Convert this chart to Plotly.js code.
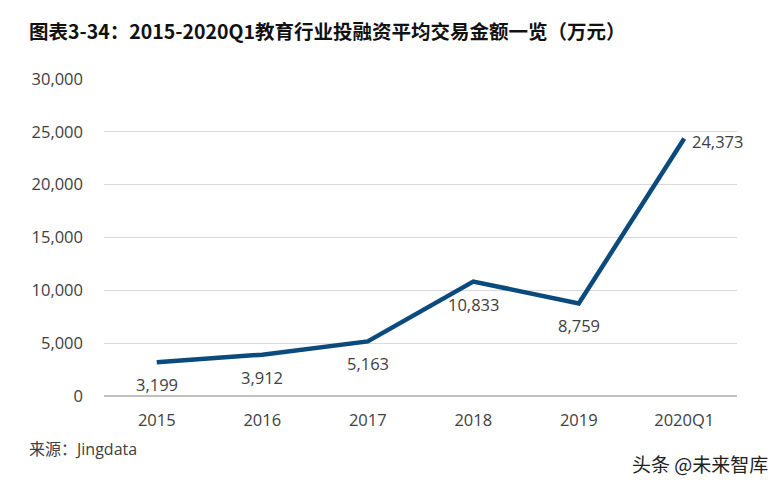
<!DOCTYPE html>
<html><head><meta charset="utf-8">
<script src="https://cdn.plot.ly/plotly-3.0.1.min.js"></script>
<style>html,body{margin:0;padding:0;background:#fff;}#chart{width:774px;height:486px;}</style>
</head><body><div id="chart"></div>
<script>
const categories = ['2015','2016','2017','2018','2019','2020Q1'];
const values = [3199, 3912, 5163, 10833, 8759, 24373];
const yTicks = [0, 5000, 10000, 15000, 20000, 25000, 30000];

const fmt = v => v.toLocaleString('en-US');
const annotations = values.map((v, i) => {
  const last = i === values.length - 1;
  return {
    x: i, y: v, xref: 'x', yref: 'y', text: fmt(v), showarrow: false,
    xanchor: last ? 'left' : 'center', yanchor: last ? 'middle' : 'top',
    xshift: last ? 6 : 0, yshift: last ? -3 : -9,
    font: {family: 'Open Sans, sans-serif', size: 16.5, color: '#404040'}
  };
});
annotations.push({
  xref: 'paper', yref: 'paper', x: 0, y: 1, xanchor: 'left', yanchor: 'middle',
  xshift: -77, yshift: 49, showarrow: false,
  text: '<b>图表3-34：2015-2020Q1教育行业投融资平均交易金额一览（万元）</b>',
  font: {family: 'Noto Sans CJK SC, sans-serif', size: 19.5, color: '#111'}
});
annotations.push({
  xref: 'paper', yref: 'paper', x: 0, y: 0, xanchor: 'left', yanchor: 'middle',
  xshift: -77, yshift: -53, showarrow: false, text: '来源：Jingdata',
  font: {family: 'Open Sans, Noto Sans CJK SC, sans-serif', size: 16, color: '#404040'}
});
annotations.push({
  xref: 'paper', yref: 'paper', x: 1, y: 0, xanchor: 'right', yanchor: 'middle',
  xshift: 33, yshift: -67, showarrow: false, text: '头条 @未来智库',
  font: {family: 'Noto Sans CJK SC, sans-serif', size: 19, color: '#222'}
});

Plotly.newPlot('chart', [{
  x: categories, y: values, type: 'scatter', mode: 'lines',
  line: {color: '#0b4a7d', width: 4.5}, hoverinfo: 'none'
}], {
  width: 774, height: 486,
  margin: {l: 104, r: 37, t: 79, b: 90},
  paper_bgcolor: '#fff', plot_bgcolor: '#fff',
  showlegend: false,
  xaxis: {type: 'category', range: [-0.5, 5.5], showgrid: false, zeroline: false,
    showline: false, ticks: '', ticklabelstandoff: 12,
    tickfont: {family: 'Open Sans, sans-serif', size: 16.5, color: '#404040'}},
  yaxis: {range: [0, 30000], tickvals: yTicks, ticktext: yTicks.map(fmt),
    showgrid: true, gridcolor: '#d9d9d9', gridwidth: 1, zeroline: true, zerolinecolor: '#bfbfbf', zerolinewidth: 1.5,
    showline: false, ticks: '', ticklabelstandoff: 20,
    tickfont: {family: 'Open Sans, sans-serif', size: 16.5, color: '#404040'}},
  annotations: annotations
}, {staticPlot: true});
</script></body></html>
